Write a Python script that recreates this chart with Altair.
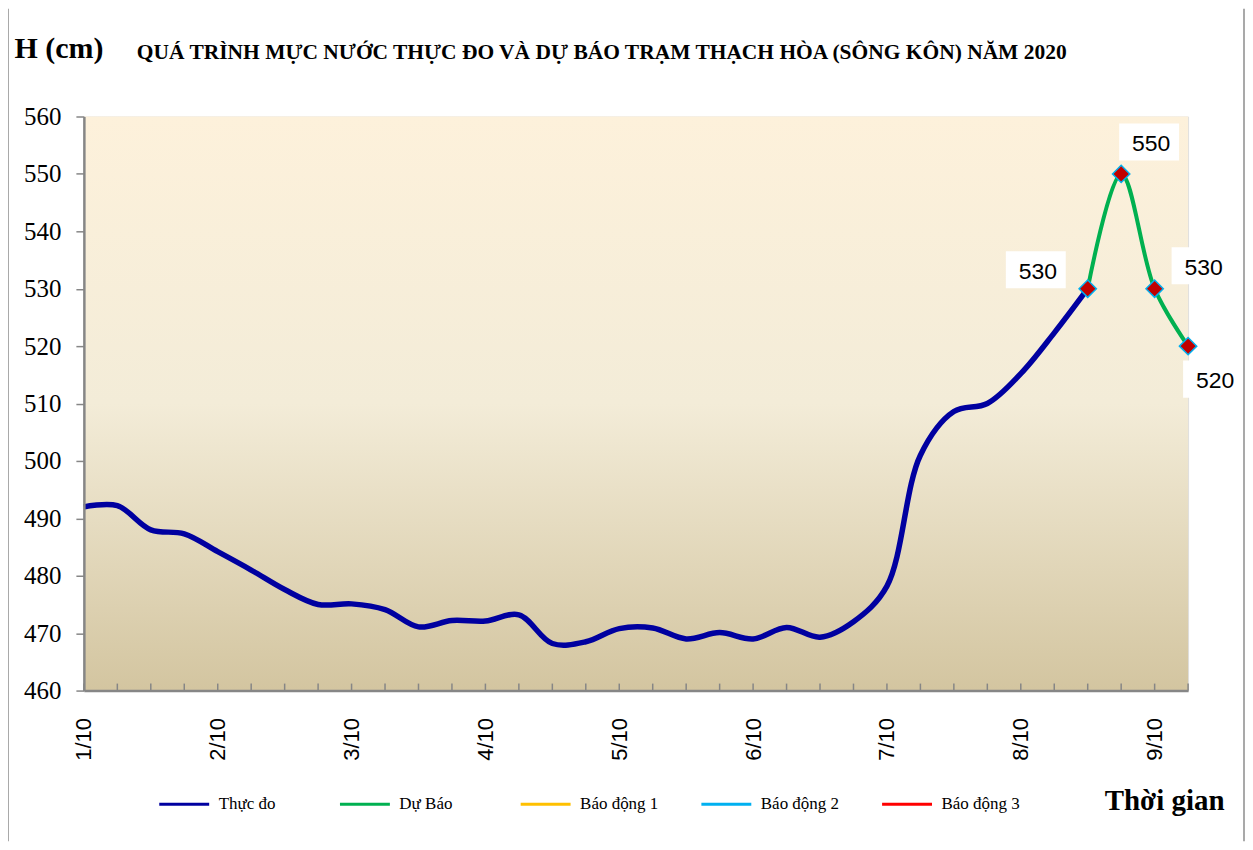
import altair as alt
import pandas as pd

# ---- data ----
day_labels = ["1/10", "2/10", "3/10", "4/10", "5/10", "6/10", "7/10", "8/10", "9/10"]
steps_per_day = 4  # observations every 6 hours
observed = [492.0, 492.2, 488.0, 487.3, 484.2, 481.0, 477.6, 475.0, 475.1, 474.1,
            471.1, 472.2, 472.1, 473.2, 468.2, 468.5, 470.8, 470.9, 469.0, 470.1,
            469.0, 471.0, 469.3, 472.0, 478.2, 501.0, 508.6, 510.0, 515.2, 522.3, 530.0]
forecast = [530, 550, 530, 520]
forecast_start = 30
n_steps = 34
series_names = ["Thực đo", "Dự Báo", "Báo động 1", "Báo động 2", "Báo động 3"]
series_colors = ["#0000A0", "#00B050", "#FFC000", "#00B0F0", "#FF0000"]
title_text = "QUÁ TRÌNH MỰC NƯỚC THỰC ĐO VÀ DỰ BÁO TRẠM THẠCH HÒA (SÔNG KÔN) NĂM 2020"

obs_df = pd.DataFrame({"step": list(range(len(observed))), "H": observed, "series": series_names[0]})
fc_df = pd.DataFrame({"step": list(range(forecast_start, forecast_start + len(forecast))),
                      "H": forecast, "series": series_names[1]})
tick_df = pd.DataFrame({"step": list(range(n_steps))})
one_row = pd.DataFrame({"a": [0]})
title_df = pd.DataFrame({"t": [title_text]})

W, H = 1106, 575

label_expr = "[" + ",".join("'%s'" % d for d in day_labels) + "][round(datum.value/%d)]" % steps_per_day

x_enc = alt.X(
    "step:Q",
    scale=alt.Scale(domain=[0, n_steps - 1], nice=False, zero=False),
    axis=alt.Axis(
        values=list(range(0, n_steps, steps_per_day)),
        labelExpr=label_expr,
        labelAngle=-90, labelAlign="right", labelBaseline="middle",
        labelFont="Liberation Sans", labelFontSize=22, labelColor="black",
        labelPadding=27, ticks=False, grid=False,
        domainColor="#868686", domainWidth=2.5,
        title="Thời gian", titleFont="Liberation Serif", titleFontSize=29,
        titleFontWeight="bold", titleColor="black", titleAngle=0,
        titleAlign="left", titleBaseline="middle", titleX=1022, titleY=110,
        zindex=1,
    ),
)
y_enc = alt.Y(
    "H:Q",
    scale=alt.Scale(domain=[460, 560], nice=False, zero=False),
    axis=alt.Axis(
        values=list(range(460, 561, 10)),
        labelFont="Liberation Serif", labelFontSize=25, labelColor="black",
        labelPadding=15, tickSize=8, tickColor="#868686", tickWidth=1.5,
        domainColor="#868686", domainWidth=2.5, grid=False,
        title="H (cm)", titleFont="Liberation Serif", titleFontSize=30,
        titleFontWeight="bold", titleColor="black", titleAngle=0,
        titleAlign="left", titleBaseline="middle", titleX=-70, titleY=-68,
        zindex=1,
    ),
)
color_enc = alt.Color(
    "series:N",
    scale=alt.Scale(domain=series_names, range=series_colors),
    legend=alt.Legend(
        orient="none", legendX=74, legendY=662, direction="horizontal", columns=5,
        gridAlign="all",
        title=None, symbolType="stroke", symbolSize=2500, symbolStrokeWidth=3,
        labelFont="Liberation Serif", labelFontSize=17, labelColor="black",
        labelOffset=8, columnPadding=36, padding=0,
    ),
)

bg = alt.Chart(one_row).mark_rect(
    fill=alt.Gradient(
        gradient="linear", x1=0, x2=0, y1=0, y2=1,
        stops=[alt.GradientStop(offset=0, color="#FDF1DB"),
               alt.GradientStop(offset=0.5, color="#F3ECD8"),
               alt.GradientStop(offset=1, color="#D3C5A0")],
    )
).encode(x=alt.value(0), x2=alt.value(W), y=alt.value(0), y2=alt.value(H))

frame_left = alt.Chart(one_row).mark_rule(color="#8C8C8C", strokeWidth=1.5).encode(
    x=alt.value(-76), y=alt.value(-108), y2=alt.value(H + 151))
frame_right = alt.Chart(one_row).mark_rule(color="#8C8C8C", strokeWidth=1.5).encode(
    x=alt.value(1162), y=alt.value(-108), y2=alt.value(H + 151))

title_mark = alt.Chart(title_df).mark_text(
    font="Liberation Serif", fontSize=21.5, fontWeight="bold", color="black",
    align="left", baseline="middle").encode(
    text="t:N", x=alt.value(53), y=alt.value(-64))

minor_ticks = alt.Chart(tick_df).mark_rule(color="#868686", strokeWidth=1.5).encode(
    x=x_enc, y=alt.value(H - 7), y2=alt.value(H))

obs_line = alt.Chart(obs_df).mark_line(strokeWidth=5.5, interpolate="catmull-rom").encode(
    x=x_enc, y=y_enc, color=color_enc)
fc_line = alt.Chart(fc_df).mark_line(strokeWidth=4, interpolate="catmull-rom").encode(
    x=x_enc, y=y_enc, color=color_enc)
fc_pts = alt.Chart(fc_df).mark_point(
    shape="diamond", filled=True, fill="#C00000", stroke="#00B0F0",
    strokeWidth=1.5, size=300, opacity=1).encode(x=x_enc, y=y_enc)

# label placement (style only), one per forecast point
label_offsets = [(-52, -19), (28, -32), (47, -23), (25, 33)]
rect_path = "M-1,-0.62L1,-0.62L1,0.62L-1,0.62Z"
label_layers = []
for k, (dx, dy) in enumerate(label_offsets):
    step_k = forecast_start + k
    base = alt.Chart(fc_df).transform_filter(alt.datum.step == step_k)
    box = base.mark_point(shape=rect_path, filled=True, fill="white", opacity=1,
                          strokeWidth=0, size=3600, xOffset=dx, yOffset=dy).encode(x=x_enc, y=y_enc)
    txt = base.mark_text(font="Liberation Sans", fontSize=23, color="black",
                         align="center", baseline="middle",
                         xOffset=dx + 2, yOffset=dy + 2).encode(
        x=x_enc, y=y_enc, text=alt.Text("H:Q", format=".0f"))
    label_layers += [box, txt]

chart = alt.layer(
    bg, frame_left, frame_right, title_mark, minor_ticks, obs_line, fc_line, fc_pts, *label_layers
).properties(
    width=W, height=H,
    autosize=alt.AutoSizeParams(type="none"),
    padding={"left": 76, "top": 108, "right": 57, "bottom": 151},
).configure_view(stroke="#262626", strokeWidth=1.5).configure(background="white")

chart.save("out.html", embed_options={"renderer": "svg", "actions": False})
